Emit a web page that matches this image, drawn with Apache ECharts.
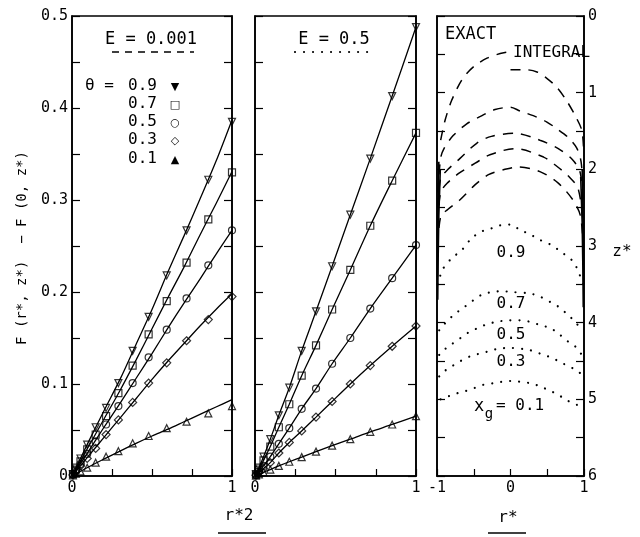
<!DOCTYPE html>
<html>
<head>
<meta charset="utf-8">
<script src="https://cdn.jsdelivr.net/npm/echarts@6/dist/echarts.min.js"></script>
<style>
html,body{margin:0;padding:0;background:#fff;}
#chart{width:640px;height:537px;}
</style>
</head>
<body>
<div id="chart"></div>
<script>
// ---------- DATA ----------
const thetaLabels = ['0.9', '0.7', '0.5', '0.3', '0.1'];
const xTickLabels = ['0', '1'];
const rTickLabels = ['-1', '0', '1'];
const zTickLabels = ['0', '1', '2', '3', '4', '5', '6'];

// r*^2 positions of the integral-method points
const rStar2 = [0.006, 0.024, 0.053, 0.095, 0.148, 0.213, 0.290, 0.379, 0.479, 0.592, 0.716, 0.852, 1.0];
// abscissae for the exact curves of the E = 0.001 panel
const lineX = [0, 0.1, 0.2, 0.3, 0.4, 0.5, 0.6, 0.7, 0.8, 0.9, 1.0];

// E = 0.001, exact curves
const e1Line09 = [0, 0.036, 0.071, 0.105, 0.143, 0.181, 0.222, 0.261, 0.301, 0.342, 0.387];
const e1Line07 = [0, 0.031, 0.062, 0.093, 0.126, 0.160, 0.194, 0.227, 0.262, 0.296, 0.331];
const e1Line05 = [0, 0.026, 0.053, 0.079, 0.106, 0.133, 0.161, 0.188, 0.214, 0.241, 0.267];
const e1Line03 = [0, 0.021, 0.042, 0.063, 0.084, 0.105, 0.125, 0.144, 0.163, 0.181, 0.198];
const e1Line01 = [0, 0.0095, 0.0185, 0.027, 0.0355, 0.0435, 0.051, 0.059, 0.067, 0.075, 0.083];
// E = 0.001, points
const e1Pts09 = [0.002, 0.009, 0.019, 0.034, 0.053, 0.074, 0.101, 0.136, 0.173, 0.218, 0.267, 0.322, 0.385];
const e1Pts07 = [0.002, 0.007, 0.016, 0.029, 0.045, 0.065, 0.090, 0.120, 0.154, 0.190, 0.232, 0.279, 0.330];
const e1Pts05 = [0.0015, 0.006, 0.013, 0.024, 0.037, 0.056, 0.076, 0.101, 0.129, 0.159, 0.193, 0.229, 0.267];
const e1Pts03 = [0.001, 0.005, 0.011, 0.019, 0.030, 0.045, 0.061, 0.080, 0.101, 0.123, 0.147, 0.170, 0.195];
const e1Pts01 = [0.0006, 0.0025, 0.005, 0.009, 0.0145, 0.021, 0.027, 0.0355, 0.0435, 0.052, 0.059, 0.068, 0.076];

// E = 0.5, points (curves pass through them from the origin)
const e5Pts09 = [0.002, 0.009, 0.021, 0.040, 0.066, 0.096, 0.136, 0.179, 0.228, 0.284, 0.345, 0.413, 0.488];
const e5Pts07 = [0.0015, 0.007, 0.017, 0.032, 0.053, 0.078, 0.109, 0.142, 0.181, 0.224, 0.272, 0.321, 0.373];
const e5Pts05 = [0.001, 0.005, 0.011, 0.021, 0.035, 0.052, 0.073, 0.095, 0.122, 0.150, 0.182, 0.215, 0.251];
const e5Pts03 = [0.0008, 0.0035, 0.008, 0.0145, 0.025, 0.0365, 0.049, 0.064, 0.081, 0.100, 0.120, 0.141, 0.163];
const e5Pts01 = [0.0004, 0.0018, 0.004, 0.007, 0.011, 0.0155, 0.0205, 0.0265, 0.033, 0.040, 0.048, 0.056, 0.065];

// right panel: [r*, z*] contours
const intTopLeft = [[-0.95,1.62],[-0.89,1.36],[-0.8,1.1],[-0.66,0.83],[-0.5,0.66],[-0.32,0.55],[-0.14,0.49],[-0.04,0.47]];
const intTopRight = [[0.0,0.70],[0.2,0.70],[0.36,0.73],[0.49,0.81],[0.63,0.93],[0.76,1.1],[0.88,1.3],[0.97,1.49],[0.995,1.75]];
const intCurve2 = [[-0.99,2.3],[-0.95,1.85],[-0.9,1.72],[-0.78,1.56],[-0.6,1.41],[-0.41,1.31],[-0.21,1.22],[0,1.19],[0.13,1.24],[0.31,1.3],[0.49,1.38],[0.63,1.47],[0.78,1.58],[0.9,1.72],[0.96,1.9],[0.99,2.3]];
const intCurve3 = [[-0.99,2.5],[-0.95,2.12],[-0.85,2.0],[-0.69,1.86],[-0.46,1.66],[-0.26,1.57],[0.06,1.53],[0.4,1.62],[0.65,1.73],[0.85,1.88],[0.95,2.05],[0.99,2.5]];
const intCurve4 = [[-0.99,2.7],[-0.95,2.3],[-0.85,2.17],[-0.7,2.05],[-0.48,1.92],[-0.28,1.81],[0.06,1.73],[0.45,1.84],[0.63,1.96],[0.8,2.1],[0.92,2.25],[0.99,2.7]];
const intCurve5 = [[-0.99,3.0],[-0.95,2.62],[-0.85,2.52],[-0.69,2.4],[-0.48,2.2],[-0.3,2.07],[-0.075,2.0],[0.1,1.97],[0.4,2.03],[0.65,2.18],[0.85,2.4],[0.95,2.6],[0.99,3.0]];

const dot09 = [[-0.99,3.5],[-0.92,3.3],[-0.8,3.16],[-0.66,3.05],[-0.53,2.9],[-0.39,2.81],[-0.26,2.77],[-0.14,2.73],[0,2.72],[0.13,2.79],[0.27,2.85],[0.4,2.92],[0.54,2.98],[0.65,3.05],[0.85,3.2],[0.93,3.35],[0.99,3.5]];
const dot07 = [[-0.97,4.1],[-0.91,4.03],[-0.82,3.94],[-0.72,3.86],[-0.62,3.79],[-0.51,3.71],[-0.38,3.63],[-0.24,3.6],[-0.12,3.59],[0.02,3.6],[0.27,3.62],[0.4,3.66],[0.54,3.73],[0.65,3.79],[0.76,3.88],[0.88,3.99],[0.97,4.1]];
const dot05 = [[-0.97,4.42],[-0.91,4.36],[-0.8,4.28],[-0.68,4.2],[-0.56,4.12],[-0.44,4.07],[-0.32,4.02],[-0.19,3.99],[-0.04,3.97],[0.13,3.97],[0.27,3.99],[0.4,4.03],[0.54,4.07],[0.65,4.14],[0.76,4.23],[0.88,4.31],[0.97,4.42]];
const dot03 = [[-0.97,4.7],[-0.91,4.64],[-0.8,4.57],[-0.68,4.5],[-0.55,4.44],[-0.41,4.4],[-0.28,4.37],[-0.17,4.34],[0,4.33],[0.27,4.36],[0.42,4.41],[0.54,4.45],[0.67,4.51],[0.79,4.57],[0.9,4.62],[0.97,4.68]];
const dot01 = [[-0.95,5.0],[-0.87,4.97],[-0.76,4.93],[-0.64,4.9],[-0.51,4.86],[-0.37,4.81],[-0.23,4.79],[-0.11,4.77],[0.02,4.76],[0.13,4.77],[0.27,4.79],[0.4,4.83],[0.54,4.89],[0.65,4.94],[0.76,5.01],[0.9,5.07],[0.95,5.1]];

const exactLeftA = [[-0.955,2.0],[-0.975,2.6],[-0.985,3.2],[-0.99,3.7]];
const exactLeftB = [[-0.975,1.9],[-0.985,2.6],[-0.993,3.4]];
const exactRightA = [[0.955,2.1],[0.975,2.7],[0.985,3.3],[0.99,3.8]];
const exactRightB = [[0.975,2.0],[0.988,2.8],[0.994,3.5]];

// ---------- CHART ----------
const MONO = '"DejaVu Sans Mono", monospace';
const pair = (xs, ys) => xs.map((x, i) => [x, ys[i]]);
const black = '#000';

function near(v, step) { return Math.abs(v / step - Math.round(v / step)) < 1e-6; }

function xAx(gi, min, max, interval, labels) {
  return {
    type: 'value', gridIndex: gi, min, max, interval,
    axisLine: { show: true, onZero: false, lineStyle: { color: black, width: 1.6 } },
    axisTick: { show: true, inside: true, length: 7, lineStyle: { color: black, width: 1.2 } },
    splitLine: { show: false },
    axisLabel: {
      color: black, fontFamily: MONO, fontSize: 15, margin: 5, showMinLabel: true, showMaxLabel: true,
      formatter: v => { const s = String(Math.round(v * 100) / 100); return labels.indexOf(s) >= 0 ? s : ''; }
    }
  };
}
function yAx(gi, min, max, interval, pos, showLabels, inverse, labelFn) {
  return {
    type: 'value', gridIndex: gi, min, max, interval, position: pos, inverse: !!inverse,
    axisLine: { show: true, onZero: false, lineStyle: { color: black, width: 1.6 } },
    axisTick: { show: true, inside: true, length: 8, lineStyle: { color: black, width: 1.2 } },
    splitLine: { show: false },
    axisLabel: { show: showLabels, color: black, fontFamily: MONO, fontSize: 15, margin: 4, formatter: labelFn }
  };
}
const fLabel = v => near(v, 0.1) ? (Math.abs(v) < 1e-9 ? '0' : (Math.round(v * 10) / 10).toFixed(1)) : '';
const zLabel = v => { const s = String(Math.round(v * 100) / 100); return zTickLabels.indexOf(s) >= 0 ? s : ''; };

const symbols = ['triangle', 'rect', 'circle', 'diamond', 'triangle'];
const rotations = [180, 0, 0, 0, 0];
const sizes = [7, 7, 7, 8, 7];

const series = [];
function addLine(xi, yi, data, style, smooth) {
  series.push({ type: 'line', xAxisIndex: xi, yAxisIndex: yi, data, showSymbol: false, symbol: 'none',
    smooth: smooth === undefined ? 0.3 : smooth, silent: true,
    lineStyle: Object.assign({ color: black, width: 1.3 }, style || {}) });
}
function addPts(xi, yi, data, k) {
  series.push({ type: 'scatter', xAxisIndex: xi, yAxisIndex: yi, data, symbol: symbols[k], symbolRotate: rotations[k],
    symbolSize: sizes[k], silent: true,
    itemStyle: { color: 'rgba(255,255,255,0)', borderColor: black, borderWidth: 1.2 } });
}

[e1Line09, e1Line07, e1Line05, e1Line03, e1Line01].forEach(a => addLine(0, 0, pair(lineX, a)));
[e1Pts09, e1Pts07, e1Pts05, e1Pts03, e1Pts01].forEach((a, k) => addPts(0, 0, pair(rStar2, a), k));
[e5Pts09, e5Pts07, e5Pts05, e5Pts03, e5Pts01].forEach(a => addLine(1, 2, [[0, 0]].concat(pair(rStar2, a))));
[e5Pts09, e5Pts07, e5Pts05, e5Pts03, e5Pts01].forEach((a, k) => addPts(1, 2, pair(rStar2, a), k));

const dashStyle = { type: [10, 8], width: 1.5 };
[intTopLeft, intTopRight, intCurve2, intCurve3, intCurve4, intCurve5].forEach(a => addLine(2, 4, a, dashStyle));
const dotStyle = { type: [0.01, 9], width: 2.2, cap: 'round' };
[dot09, dot07, dot05, dot03, dot01].forEach(a => addLine(2, 4, a, dotStyle));
[exactLeftA, exactLeftB, exactRightA, exactRightB].forEach(a => addLine(2, 4, a, { width: 1.6 }, false));

const T = (text, x, y, size, align) => ({
  type: 'text', silent: true,
  style: { text, x, y, font: size + 'px ' + MONO, fill: black, textAlign: align || 'center', textVerticalAlign: 'middle' }
});

const graphic = [
  T('E = 0.001', 151, 40, 17),
  { type: 'line', silent: true, shape: { x1: 112, y1: 52, x2: 194, y2: 52 }, style: { stroke: black, lineWidth: 1.5, lineDash: [7, 6] } },
  T('E = 0.5', 334, 40, 17),
  { type: 'line', silent: true, shape: { x1: 295, y1: 52, x2: 368, y2: 52 }, style: { stroke: black, lineWidth: 2.2, lineDash: [0.01, 9], lineCap: 'round' } },
  T('\u03b8 =', 85, 86, 16, 'left'),
  T('EXACT', 445, 35, 17, 'left'),
  T('INTEGRAL', 513, 53, 16, 'left'),
  T('0.9', 511, 253, 16),
  T('0.7', 511, 304, 16),
  T('0.5', 511, 335, 16),
  T('0.3', 511, 362, 16),
  T('x', 479, 407, 17),
  T('g', 489, 414, 14),
  T('= 0.1', 496, 406, 16, 'left'),
  {
    type: 'text', silent: true, x: 22, y: 248, rotation: Math.PI / 2,
    style: { text: 'F (r*, z*)  \u2212 F (0, z*)', x: 0, y: 0, font: '14px ' + MONO, fill: black,
      textAlign: 'center', textVerticalAlign: 'middle' }
  },
  T('r*2', 239, 516, 16),
  { type: 'line', silent: true, shape: { x1: 218, y1: 533, x2: 266, y2: 533 }, style: { stroke: black, lineWidth: 1.5 } },
  T('r*', 508, 518, 16),
  { type: 'line', silent: true, shape: { x1: 488, y1: 533, x2: 526, y2: 533 }, style: { stroke: black, lineWidth: 1.5 } },
  T('z*', 622, 252, 16)
];
const legendGlyphs = ['\u25bc', '\u25a1', '\u25cb', '\u25c7', '\u25b2'];
const legendY = [86, 104, 122, 140, 159];
thetaLabels.forEach((lab, i) => {
  graphic.push(T(lab, 157, legendY[i], 16, 'right'));
  graphic.push({ type: 'text', silent: true, style: { text: legendGlyphs[i], x: 175, y: legendY[i] + 1,
    font: '11px "DejaVu Sans"', fill: black, textAlign: 'center', textVerticalAlign: 'middle' } });
});

const gridBase = { show: true, borderColor: black, borderWidth: 1.6, backgroundColor: 'rgba(0,0,0,0)', containLabel: false };
const option = {
  animation: false,
  backgroundColor: '#fff',
  grid: [
    Object.assign({ left: 72, top: 16, width: 160, height: 460 }, gridBase),
    Object.assign({ left: 255, top: 16, width: 161, height: 460 }, gridBase),
    Object.assign({ left: 437, top: 16, width: 147, height: 460 }, gridBase)
  ],
  xAxis: [
    xAx(0, 0, 1, 0.25, xTickLabels),
    xAx(1, 0, 1, 0.25, xTickLabels),
    xAx(2, -1, 1, 0.5, rTickLabels)
  ],
  yAxis: [
    yAx(0, 0, 0.5, 0.05, 'left', true, false, fLabel),
    yAx(0, 0, 0.5, 0.05, 'right', false, false, fLabel),
    yAx(1, 0, 0.5, 0.05, 'left', false, false, fLabel),
    yAx(1, 0, 0.5, 0.05, 'right', false, false, fLabel),
    yAx(2, 0, 6, 0.5, 'right', true, true, zLabel),
    yAx(2, 0, 6, 0.5, 'left', false, true, zLabel)
  ],
  series,
  graphic
};
const chart = echarts.init(document.getElementById('chart'), null, { renderer: 'canvas' });
chart.setOption(option);
</script>
</body>
</html>
